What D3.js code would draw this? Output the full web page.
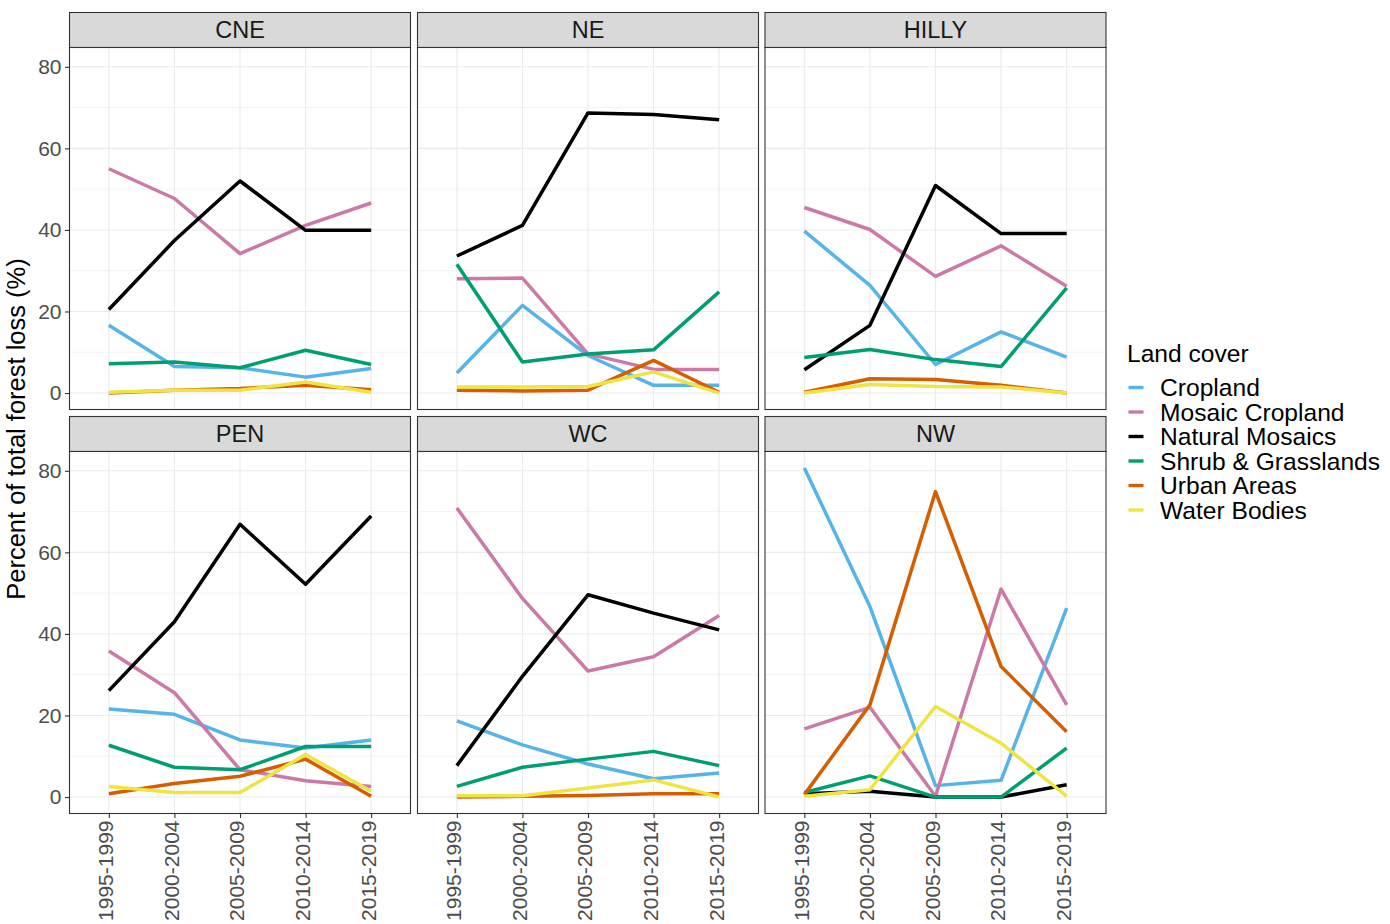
<!DOCTYPE html>
<html>
<head>
<meta charset="utf-8">
<script src="https://cdn.jsdelivr.net/npm/d3@7"></script>
<style>
  body { margin: 0; background: #fff; }
  svg { display: block; font-family: "Liberation Sans", Arial, sans-serif; }
</style>
</head>
<body>
<svg id="chart" width="1390" height="924"></svg>
<script>
// Periods on the x axis
const periods = ["1995-1999", "2000-2004", "2005-2009", "2010-2014", "2015-2019"];
// Facet regions, in panel order (row by row)
const regions = ["CNE", "NE", "HILLY", "PEN", "WC", "NW"];
// Land cover classes and their line colours
const landCovers = ["Cropland", "Mosaic Cropland", "Natural Mosaics", "Shrub & Grasslands", "Urban Areas", "Water Bodies"];
const coverColors = ["#56B4E9", "#CC79A7", "#000000", "#009E73", "#D55E00", "#F0E442"];
const yTicks = [0, 20, 40, 60, 80];
const yMinorTicks = [10, 30, 50, 70];

// Percent of total forest loss, one row per region (CNE, NE, HILLY, PEN, WC, NW)
const cropland = [
  [16.6, 6.5, 6.2, 3.9, 6.0],
  [4.9, 21.5, 9.2, 1.9, 1.9],
  [39.7, 26.4, 7.0, 15.0, 8.8],
  [21.6, 20.3, 14.0, 12.0, 14.0],
  [18.7, 12.8, 8.1, 4.5, 5.9],
  [80.7, 46.7, 2.8, 4.1, 46.3]
];
const mosaicCropland = [
  [55.0, 47.7, 34.2, 41.1, 46.6],
  [28.0, 28.2, 9.6, 5.8, 5.8],
  [45.5, 40.1, 28.6, 36.1, 26.2],
  [35.8, 25.6, 6.7, 4.0, 2.6],
  [70.9, 48.7, 30.9, 34.4, 44.5],
  [16.7, 22.0, 0.2, 51.0, 22.6]
];
const naturalMosaics = [
  [20.5, 37.4, 52.0, 39.9, 39.9],
  [33.6, 41.1, 68.7, 68.3, 67.0],
  [5.7, 16.6, 50.9, 39.1, 39.1],
  [26.1, 43.0, 66.9, 52.2, 68.9],
  [7.7, 29.6, 49.6, 45.1, 41.0],
  [0.8, 1.4, 0.0, 0.0, 3.0]
];
const shrubGrasslands = [
  [7.2, 7.6, 6.2, 10.5, 7.0],
  [31.6, 7.6, 9.6, 10.6, 24.8],
  [8.7, 10.7, 8.2, 6.5, 25.8],
  [12.7, 7.3, 6.7, 12.4, 12.4],
  [2.6, 7.3, 9.3, 11.2, 7.7],
  [1.1, 5.2, 0.0, 0.0, 12.0]
];
const urbanAreas = [
  [0.0, 0.7, 1.1, 1.9, 0.8],
  [0.7, 0.5, 0.7, 8.0, 0.2],
  [0.2, 3.5, 3.3, 1.9, 0.0],
  [0.8, 3.3, 5.1, 9.3, 0.2],
  [0.0, 0.2, 0.4, 0.8, 0.8],
  [0.6, 22.6, 74.9, 32.0, 16.0]
];
const waterBodies = [
  [0.2, 0.7, 0.7, 2.7, 0.2],
  [1.5, 1.5, 1.6, 5.2, 0.0],
  [0.0, 2.1, 1.6, 1.5, 0.0],
  [2.6, 1.1, 1.1, 10.4, 1.4],
  [0.3, 0.3, 2.2, 4.2, 0.0],
  [0.2, 1.8, 22.2, 13.2, 0.2]
];
const seriesByCover = [cropland, mosaicCropland, naturalMosaics, shrubGrasslands, urbanAreas, waterBodies];

// ---- layout ----
const svg = d3.select("#chart");
const colX = [69.5, 417.5, 765];
const rowStripTop = [12.5, 416.5];
const stripH = 35;
const panelW = 341;
const panelH = 362;

const allValues = seriesByCover.flat(2);
const vMin = d3.min(allValues), vMax = d3.max(allValues);
const pad = (vMax - vMin) * 0.05;

const x = d3.scalePoint().domain(periods).range([0, panelW]).padding(0.6);
const y = d3.scaleLinear().domain([vMin - pad, vMax + pad]).range([panelH, 0]);
const color = d3.scaleOrdinal().domain(landCovers).range(coverColors);

const line = d3.line()
  .x((d, i) => x(periods[i]))
  .y(d => y(d));

regions.forEach((region, r) => {
  const col = r % 3, row = Math.floor(r / 3);
  const left = colX[col];
  const stripTop = rowStripTop[row];
  const top = stripTop + stripH;

  // strip
  const strip = svg.append("g").attr("transform", `translate(${left},${stripTop})`);
  strip.append("rect")
    .attr("width", panelW).attr("height", stripH)
    .attr("fill", "#D9D9D9").attr("stroke", "#333333").attr("stroke-width", 1.1);
  strip.append("text")
    .attr("x", panelW / 2).attr("y", stripH / 2).attr("dy", "0.36em")
    .attr("text-anchor", "middle")
    .attr("font-size", 23.5).attr("fill", "#1A1A1A")
    .text(region);

  const g = svg.append("g").attr("transform", `translate(${left},${top})`);
  g.append("rect").attr("width", panelW).attr("height", panelH).attr("fill", "#fff");

  // grid
  g.selectAll(".gminor").data(yMinorTicks).join("line")
    .attr("x1", 0).attr("x2", panelW)
    .attr("y1", d => y(d)).attr("y2", d => y(d))
    .attr("stroke", "#EBEBEB").attr("stroke-width", 0.6);
  g.selectAll(".gmajor").data(yTicks).join("line")
    .attr("x1", 0).attr("x2", panelW)
    .attr("y1", d => y(d)).attr("y2", d => y(d))
    .attr("stroke", "#EBEBEB").attr("stroke-width", 1.1);
  g.selectAll(".gx").data(periods).join("line")
    .attr("x1", d => x(d)).attr("x2", d => x(d))
    .attr("y1", 0).attr("y2", panelH)
    .attr("stroke", "#EBEBEB").attr("stroke-width", 1.1);

  // series lines
  landCovers.forEach((lc, k) => {
    g.append("path")
      .datum(seriesByCover[k][r])
      .attr("d", line)
      .attr("fill", "none")
      .attr("stroke", color(lc))
      .attr("stroke-width", 3.5)
      .attr("stroke-linejoin", "round")
      .attr("stroke-linecap", "butt");
  });

  // border
  g.append("rect").attr("width", panelW).attr("height", panelH)
    .attr("fill", "none").attr("stroke", "#333333").attr("stroke-width", 1.1);

  // y axis on first column
  if (col === 0) {
    const ya = g.append("g").call(d3.axisLeft(y).tickValues(yTicks).tickSize(4.5).tickPadding(3.5));
    ya.select(".domain").remove();
    ya.selectAll(".tick line").attr("stroke", "#333333").attr("stroke-width", 1.1);
    ya.selectAll(".tick text")
      .attr("font-size", 21).attr("fill", "#4D4D4D")
      .attr("font-family", "\"Liberation Sans\", Arial, sans-serif");
  }

  // x axis on bottom row
  if (row === 1) {
    const xa = g.append("g").attr("transform", `translate(0,${panelH})`)
      .call(d3.axisBottom(x).tickSize(4.5).tickFormat(""));
    xa.select(".domain").remove();
    xa.selectAll(".tick line").attr("stroke", "#333333").attr("stroke-width", 1.1);
    g.selectAll(".xlab").data(periods).join("text")
      .attr("transform", d => `translate(${x(d) - 3},${panelH + 7}) rotate(-90)`)
      .attr("text-anchor", "end").attr("dy", "0.35em")
      .attr("font-size", 21).attr("fill", "#4D4D4D")
      .text(d => d);
  }
});

// y axis title
svg.append("text")
  .attr("transform", "translate(24.5,429) rotate(-90)")
  .attr("text-anchor", "middle")
  .attr("font-size", 25.5).attr("fill", "#000")
  .text("Percent of total forest loss (%)");

// legend
const legend = svg.append("g").attr("transform", "translate(1127,0)");
legend.append("text")
  .attr("x", 0).attr("y", 362)
  .attr("font-size", 24.6).attr("fill", "#000")
  .text("Land cover");
const item = legend.selectAll(".item").data(landCovers).join("g")
  .attr("transform", (d, i) => `translate(0,${387.5 + i * 24.5})`);
item.append("line")
  .attr("x1", 1.5).attr("x2", 16.5)
  .attr("stroke", d => color(d)).attr("stroke-width", 3.4);
item.append("text")
  .attr("x", 33).attr("dy", "0.35em")
  .attr("font-size", 24.6).attr("fill", "#000")
  .text(d => d);
</script>
</body>
</html>
